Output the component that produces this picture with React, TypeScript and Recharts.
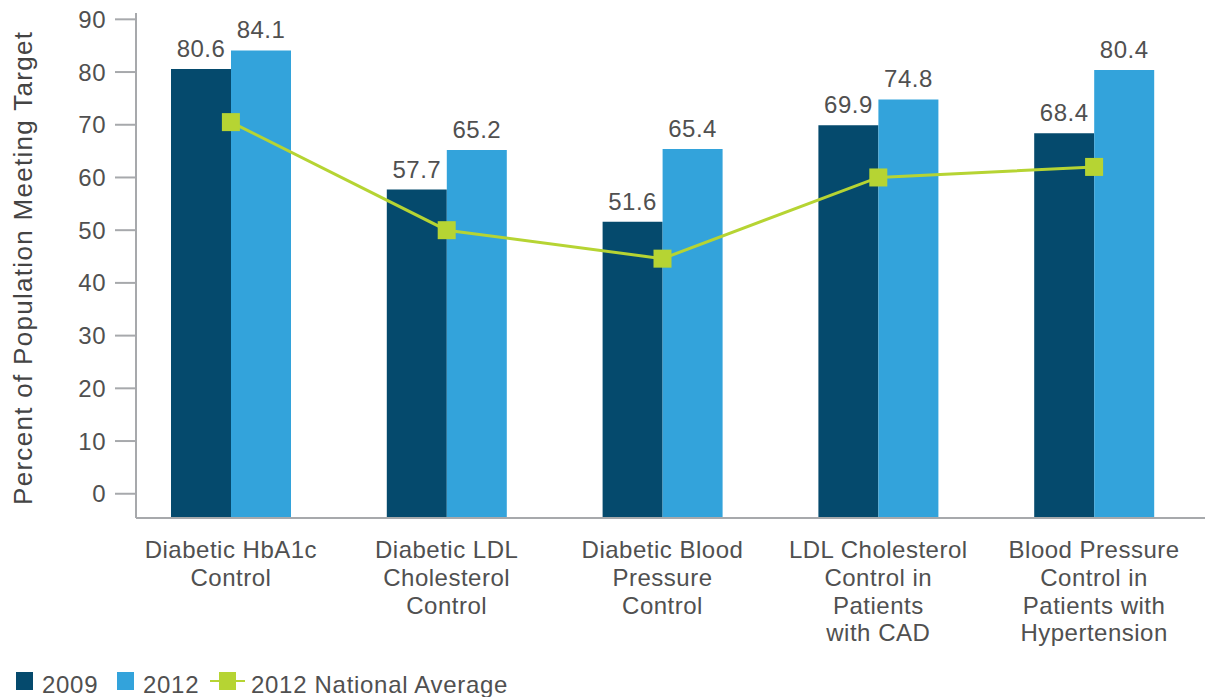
import { ComposedChart, Bar, Line, XAxis, YAxis, LabelList, Legend, Label } from "recharts";

const categories = [
  "Diabetic HbA1c\nControl",
  "Diabetic LDL\nCholesterol\nControl",
  "Diabetic Blood\nPressure\nControl",
  "LDL Cholesterol\nControl in\nPatients\nwith CAD",
  "Blood Pressure\nControl in\nPatients with\nHypertension",
];
const values2009 = [80.6, 57.7, 51.6, 69.9, 68.4];
const values2012 = [84.1, 65.2, 65.4, 74.8, 80.4];
const nationalAverage2012 = [70.5, 50, 44.6, 60, 62];
const yTicks = [0, 10, 20, 30, 40, 50, 60, 70, 80, 90];

const Y_MIN = -4.6;
const Y_MAX = 91.2;

const DARK = "#054a6d";
const LIGHT = "#33a3db";
const GREEN = "#b6d433";
const AXIS = "#a7a9ac";
const TEXT = "#505050";
const FONT = "'Liberation Sans', Arial, sans-serif";

const data = categories.map((category, i) => ({
  category,
  v2009: values2009[i],
  v2012: values2012[i],
  avg: nationalAverage2012[i],
}));

function CategoryTick({ x, y, payload }: any) {
  const lines = String(payload.value).split("\n");
  return (
    <text
      x={x}
      y={y}
      textAnchor="middle"
      fill={TEXT}
      fontSize={24}
      fontFamily={FONT}
      style={{ letterSpacing: 0.5 }}
    >
      {lines.map((line, i) => (
        <tspan key={i} x={x} dy={i === 0 ? 40 : 27.8}>
          {line}
        </tspan>
      ))}
    </text>
  );
}

function SquareDot({ cx, cy, index }: any) {
  return <rect key={index} x={cx - 9} y={cy - 9} width={18} height={18} fill={GREEN} />;
}

function LegendBox({ payload }: any) {
  const starts = [16, 117, 210];
  const textStyle = { letterSpacing: 0.7 };
  return (
    <svg width={600} height={40} style={{ display: "block" }}>
      {(payload || []).map((entry: any, i: number) => {
        const x0 = starts[i] ?? 0;
        if (entry.type === "line") {
          return (
            <g key={i}>
              <line x1={x0} x2={x0 + 35} y1={24} y2={24} stroke={GREEN} strokeWidth={2} />
              <rect x={x0 + 9} y={15} width={17} height={18} fill={GREEN} />
              <text x={x0 + 41} y={36} fontSize={24} fill={TEXT} fontFamily={FONT} style={textStyle}>
                {entry.value}
              </text>
            </g>
          );
        }
        return (
          <g key={i}>
            <rect x={x0} y={15} width={17} height={18} fill={entry.color} />
            <text x={x0 + 26} y={36} fontSize={24} fill={TEXT} fontFamily={FONT} style={textStyle}>
              {entry.value}
            </text>
          </g>
        );
      })}
    </svg>
  );
}

export default function App() {
  return (
    <div style={{ position: "absolute", left: 0, top: 0, fontFamily: FONT }}>
      <ComposedChart
        width={1205}
        height={697}
        data={data}
        margin={{ top: 13, right: 0, bottom: 0, left: 0 }}
        barGap={0}
      >
        <XAxis
          dataKey="category"
          interval={0}
          height={139}
          padding={{ left: -13, right: 3 }}
          tickLine={false}
          tickSize={0}
          tickMargin={0}
          axisLine={{ stroke: AXIS, strokeWidth: 2 }}
          tick={<CategoryTick />}
        />
        <YAxis
          width={136}
          domain={[Y_MIN, Y_MAX]}
          ticks={yTicks}
          allowDataOverflow
          tickSize={21}
          tickMargin={9}
          axisLine={{ stroke: AXIS, strokeWidth: 2 }}
          tickLine={{ stroke: AXIS, strokeWidth: 2 }}
          tick={{ fontSize: 24, fill: TEXT, fontFamily: FONT, letterSpacing: 0.5 }}
        >
          <Label
            content={({ viewBox }: any) => {
              const x = (viewBox?.x ?? 0) + 32;
              const y = (viewBox?.y ?? 13) + (viewBox?.height ?? 505) / 2 + 3;
              return (
                <text
                  x={x}
                  y={y}
                  transform={`rotate(-90, ${x}, ${y})`}
                  textAnchor="middle"
                  fontSize={26}
                  fill="#444444"
                  fontFamily={FONT}
                  textLength={473}
                  lengthAdjust="spacing"
                >
                  Percent of Population Meeting Target
                </text>
              );
            }}
          />
        </YAxis>
        <Legend
          verticalAlign="bottom"
          align="left"
          height={40}
          wrapperStyle={{ left: 0, bottom: 0 }}
          content={<LegendBox />}
          payload={[
            { value: "2009", type: "square", color: DARK, id: "v2009" },
            { value: "2012", type: "square", color: LIGHT, id: "v2012" },
            { value: "2012 National Average", type: "line", color: GREEN, id: "avg" },
          ]}
        />
        <Bar
          name="2009"
          dataKey={(d: any) => [Y_MIN, d.v2009]}
          fill={DARK}
          barSize={60}
          isAnimationActive={false}
        >
          <LabelList
            dataKey="v2009"
            position="top"
            offset={12}
            fontSize={24}
            fill={TEXT}
            fontFamily={FONT}
            letterSpacing={0.5}
          />
        </Bar>
        <Bar
          name="2012"
          dataKey={(d: any) => [Y_MIN, d.v2012]}
          fill={LIGHT}
          barSize={60}
          isAnimationActive={false}
        >
          <LabelList
            dataKey="v2012"
            position="top"
            offset={12}
            fontSize={24}
            fill={TEXT}
            fontFamily={FONT}
            letterSpacing={0.5}
          />
        </Bar>
        <Line
          name="2012 National Average"
          dataKey="avg"
          type="linear"
          stroke={GREEN}
          strokeWidth={3}
          dot={<SquareDot />}
          activeDot={false}
          isAnimationActive={false}
        />
      </ComposedChart>
    </div>
  );
}
